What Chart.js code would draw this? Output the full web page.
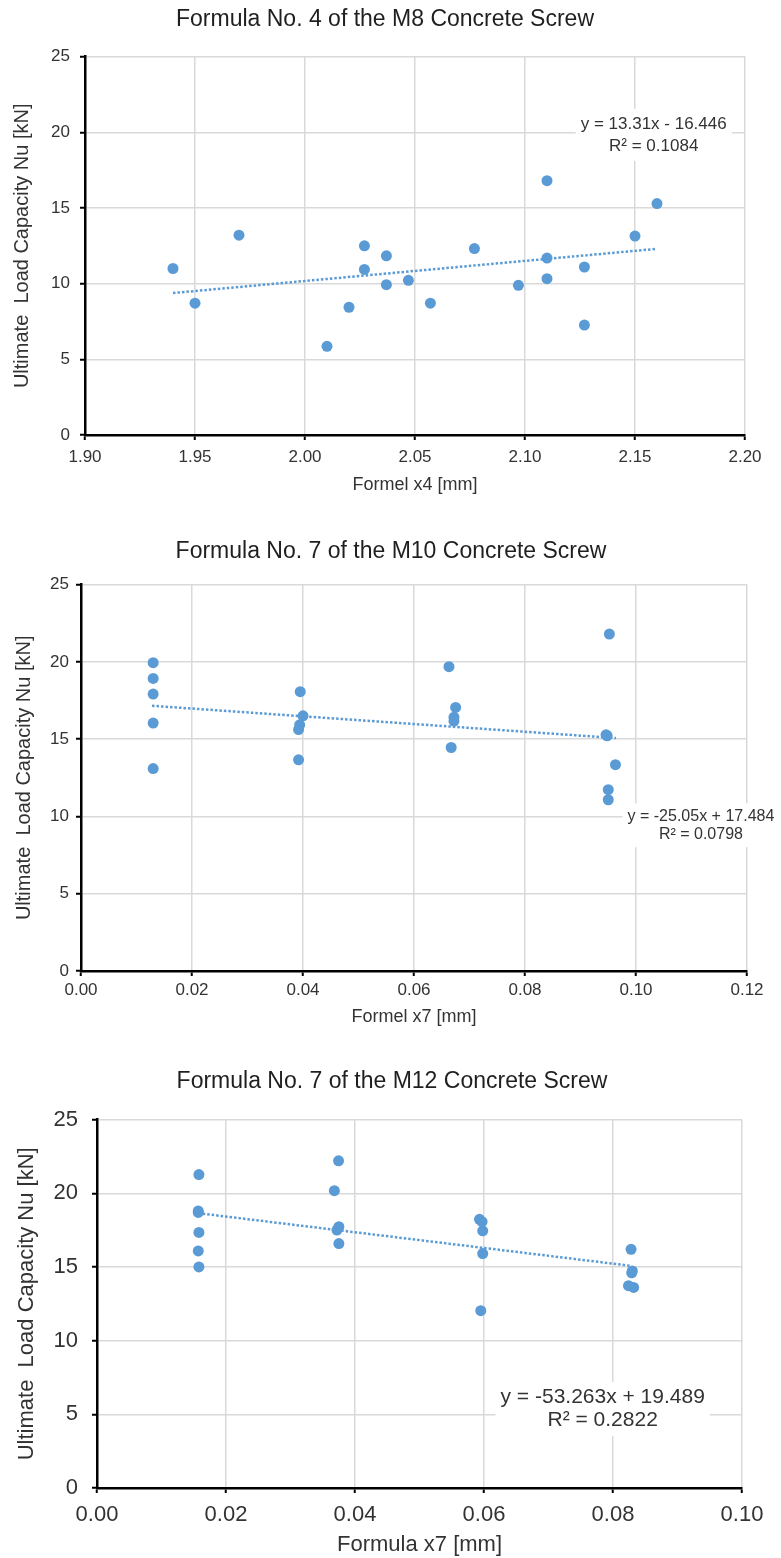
<!DOCTYPE html>
<html>
<head>
<meta charset="utf-8">
<script src="https://cdn.jsdelivr.net/npm/chart.js@4"></script>
<style>
  html, body { margin: 0; padding: 0; background: #fff; }
  #wrap { position: relative; width: 781px; height: 1558px; }
  canvas { position: absolute; left: 0; }
</style>
</head>
<body>
<div id="wrap">
  <canvas id="m8Chart" width="781" height="505" style="top:0px"></canvas>
  <canvas id="m10Chart" width="781" height="530" style="top:510px"></canvas>
  <canvas id="m12Chart" width="781" height="518" style="top:1040px"></canvas>
</div>
<script>
const FONT = "'Liberation Sans', Arial, sans-serif";
const BLUE = '#5B9BD5';
const TEXT = '#333';

// M8 screw, formula no. 4
const m8X = [1.94, 1.95, 1.97, 2.01, 2.02, 2.027, 2.027, 2.037, 2.037, 2.047,
             2.057, 2.077, 2.097, 2.11, 2.11, 2.11, 2.127, 2.127, 2.15, 2.16];
const m8Y = [11.0, 8.71, 13.2, 5.86, 8.44, 12.5, 10.94, 11.84, 9.93, 10.22,
             8.71, 12.32, 9.89, 16.8, 11.69, 10.33, 11.1, 7.26, 13.14, 15.29];
const m8TrendX = [1.94, 2.16];
const m8TrendY = [9.38, 12.30];
const m8Eq = ['y = 13.31x - 16.446', 'R² = 0.1084'];

// M10 screw, formula no. 7
const m10X = [0.013, 0.013, 0.013, 0.013, 0.013,
              0.0395, 0.040, 0.0394, 0.0392, 0.0392,
              0.0663, 0.0675, 0.0672, 0.0672, 0.0667,
              0.0952, 0.0946, 0.0948, 0.0963, 0.095, 0.095];
const m10Y = [19.95, 18.93, 17.92, 16.04, 13.1,
              18.07, 16.51, 15.93, 15.62, 13.66,
              19.69, 17.05, 16.42, 16.17, 14.46,
              21.8, 15.28, 15.22, 13.35, 11.73, 11.08];
const m10TrendX = [0.0128, 0.0964];
const m10TrendY = [17.16, 15.07];
const m10Eq = ['y = -25.05x + 17.484', 'R² = 0.0798'];

// M12 screw, formula no. 7
const m12X = [0.0158, 0.0157, 0.0157, 0.0158, 0.0157, 0.0158,
              0.03745, 0.0368, 0.0375, 0.0372, 0.0375,
              0.0593, 0.0597, 0.0598, 0.0598, 0.0595,
              0.0828, 0.0830, 0.0829, 0.0824, 0.0832];
const m12Y = [21.27, 18.8, 18.7, 17.34, 16.09, 15.0,
              22.2, 20.18, 17.73, 17.5, 16.59,
              18.23, 18.07, 17.45, 15.91, 12.03,
              16.2, 14.73, 14.6, 13.73, 13.61];
const m12TrendX = [0.0157, 0.0829];
const m12TrendY = [18.65, 15.07];
const m12Eq = ['y = -53.263x + 19.489', 'R² = 0.2822'];

const yTicksMax = 25;
const yStep = 5;
const yTitle = 'Ultimate  Load Capacity Nu [kN]';

// white box with the trendline equation, like Excel puts it
const trendLabelPlugin = {
  id: 'trendLabel',
  beforeDatasetsDraw(chart, args, opts) {
    if (!opts || !opts.lines) return;
    const { ctx, scales } = chart;
    const cx = scales.x.getPixelForValue(opts.x);
    const cy = scales.y.getPixelForValue(opts.y);
    ctx.save();
    ctx.font = `${opts.size}px ${FONT}`;
    const lh = opts.lineHeight;
    const w = Math.max(...opts.lines.map(l => ctx.measureText(l).width));
    const h = lh * opts.lines.length;
    ctx.fillStyle = '#fff';
    ctx.fillRect(cx - w / 2 - 5, cy - h / 2 - 4, w + 10, h + 8);
    ctx.fillStyle = TEXT;
    ctx.textAlign = 'center';
    ctx.textBaseline = 'middle';
    opts.lines.forEach((l, i) => ctx.fillText(l, cx, cy - h / 2 + lh * (i + 0.5)));
    ctx.restore();
  }
};

function points(xs, ys) {
  return xs.map((x, i) => ({ x, y: ys[i] }));
}

function makeChart(id, o) {
  const ctx = document.getElementById(id).getContext('2d');
  return new Chart(ctx, {
    type: 'scatter',
    data: {
      datasets: [
        {
          data: points(o.xs, o.ys),
          backgroundColor: BLUE,
          borderWidth: 0,
          pointRadius: 5.5
        },
        {
          data: points(o.trendX, o.trendY),
          showLine: true,
          borderColor: BLUE,
          borderWidth: 2.5,
          borderDash: [2.5, 2],
          pointRadius: 0,
          fill: false
        }
      ]
    },
    options: {
      responsive: false,
      animation: false,
      // left padding only shifts the centred title; the y scale width makes up for it
      layout: { padding: { left: o.padLeft, right: o.padRight, top: 0, bottom: 0 } },
      plugins: {
        legend: { display: false },
        tooltip: { enabled: false },
        title: {
          display: true,
          text: o.title,
          color: '#1f1f1f',
          font: { family: FONT, size: 23, weight: 'normal' },
          padding: o.titlePad
        },
        trendLabel: o.label
      },
      scales: {
        x: {
          type: 'linear',
          min: o.xMin,
          max: o.xMax,
          ticks: {
            stepSize: o.xStep,
            color: TEXT,
            font: { family: FONT, size: o.tickSize },
            padding: o.xTickPad,
            maxRotation: 0,
            autoSkip: false,
            callback: v => v.toFixed(2)
          },
          grid: { color: '#d9d9d9', lineWidth: 1.5, tickColor: '#000', tickLength: 5, tickWidth: 2 },
          border: { color: '#000', width: 2.5 },
          title: {
            display: true,
            text: o.xTitle,
            color: TEXT,
            font: { family: FONT, size: o.xTitleSize },
            padding: { top: 0, bottom: o.xTitlePad }
          },
          afterFit: s => { s.height = o.xHeight; }
        },
        y: {
          min: 0,
          max: yTicksMax,
          ticks: {
            stepSize: yStep,
            color: TEXT,
            font: { family: FONT, size: o.tickSize },
            padding: o.yTickPad
          },
          grid: { color: '#d9d9d9', lineWidth: 1.5, tickColor: '#000', tickLength: 5, tickWidth: 2 },
          border: { color: '#000', width: 2.5 },
          title: {
            display: true,
            text: yTitle,
            color: TEXT,
            font: { family: FONT, size: o.yTitleSize },
            padding: { top: o.yTitlePad, bottom: 0 }
          },
          afterFit: s => { s.width = o.yWidth; }
        }
      }
    },
    plugins: [trendLabelPlugin]
  });
}

makeChart('m8Chart', {
  xs: m8X, ys: m8Y, trendX: m8TrendX, trendY: m8TrendY,
  title: 'Formula No. 4 of the M8 Concrete Screw',
  titlePad: { top: 6, bottom: 23 },
  xTitle: 'Formel x4 [mm]', xTitleSize: 18, xTitlePad: 9,
  xMin: 1.9, xMax: 2.2, xStep: 0.05,
  tickSize: 17, xTickPad: 7, yTickPad: 10,
  yTitleSize: 20, yTitlePad: -15,
  xHeight: 70, yWidth: 60, padLeft: 25, padRight: 36,
  label: { lines: m8Eq, x: 2.1585, y: 19.83, size: 17, lineHeight: 22 }
});

makeChart('m10Chart', {
  xs: m10X, ys: m10Y, trendX: m10TrendX, trendY: m10TrendY,
  title: 'Formula No. 7 of the M10 Concrete Screw',
  titlePad: { top: 28, bottom: 19 },
  xTitle: 'Formel x7 [mm]', xTitleSize: 18, xTitlePad: 12,
  xMin: 0, xMax: 0.12, xStep: 0.02,
  tickSize: 17, xTickPad: 4, yTickPad: 7,
  yTitleSize: 20, yTitlePad: -23,
  xHeight: 69, yWidth: 46, padLeft: 35, padRight: 34,
  label: { lines: m10Eq, x: 0.1117, y: 9.43, size: 16, lineHeight: 18 }
});

makeChart('m12Chart', {
  xs: m12X, ys: m12Y, trendX: m12TrendX, trendY: m12TrendY,
  title: 'Formula No. 7 of the M12 Concrete Screw',
  titlePad: { top: 28, bottom: 24 },
  xTitle: 'Formula x7 [mm]', xTitleSize: 22, xTitlePad: 0,
  xMin: 0, xMax: 0.1, xStep: 0.02,
  tickSize: 22, xTickPad: 9, yTickPad: 14,
  yTitleSize: 22, yTitlePad: -28,
  xHeight: 70, yWidth: 55, padLeft: 42, padRight: 39,
  label: { lines: m12Eq, x: 0.0784, y: 5.37, size: 21, lineHeight: 23 }
});
</script>
</body>
</html>
